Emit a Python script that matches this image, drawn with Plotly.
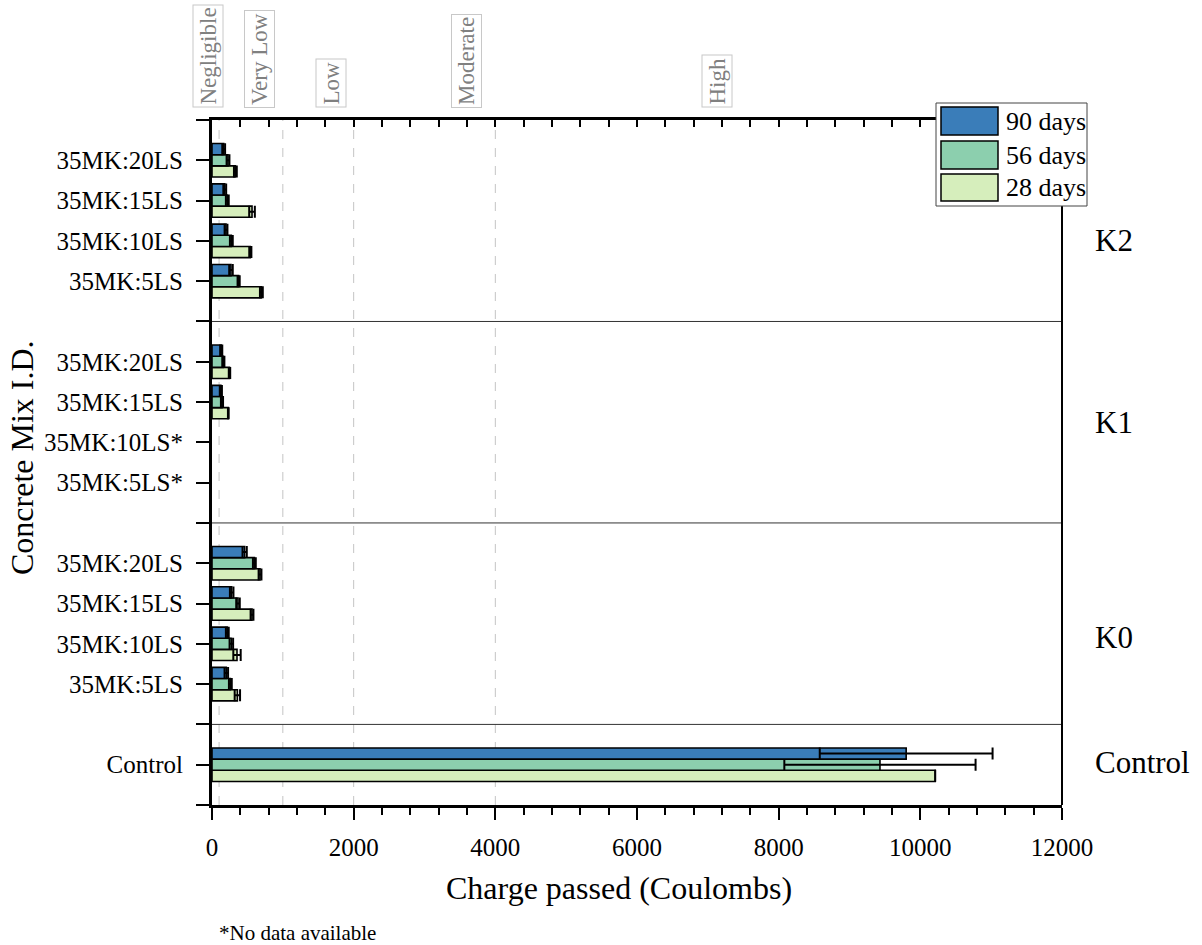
import plotly.graph_objects as go

# ---- data -------------------------------------------------------------
mix_labels = ["Control",
              "35MK:5LS", "35MK:10LS", "35MK:15LS", "35MK:20LS",
              "35MK:5LS*", "35MK:10LS*", "35MK:15LS", "35MK:20LS",
              "35MK:5LS", "35MK:10LS", "35MK:15LS", "35MK:20LS"]
series_names = ["28 days", "56 days", "90 days"]
series_colors = ["#d6eebc", "#8ccfae", "#3a7db9"]

charge_28 = [10210, 358, 353, 565, 678, None, None, 230, 247, 697, 541, 565, 330]
charge_56 = [9430, 259, 273, 367, 598, None, None, 141, 160, 376, 273, 216, 226]
charge_90 = [9800, 202, 216, 278, 461, None, None, 125, 130, 268, 198, 180, 165]

err_28 = [0, 38, 52, 20, 20, None, None, 5, 10, 20, 15, 40, 20]
err_56 = [1350, 20, 25, 25, 20, None, None, 15, 15, 15, 20, 20, 20]
err_90 = [1220, 25, 20, 25, 30, None, None, 15, 15, 25, 20, 20, 20]

group_names = ["Control", "K0", "K1", "K2"]
risk_names = ["Negligible", "Very Low", "Low", "Moderate", "High"]
risk_bounds = [100, 1000, 2000, 4000]
x_ticks = [0, 2000, 4000, 6000, 8000, 10000, 12000]

# ---- layout helpers ---------------------------------------------------
# y slots: categories sit on whole numbers, group separators between them
y_slots = [1, 3, 4, 5, 6, 8, 9, 10, 11, 13, 14, 15, 16]
separators = [2, 7, 12]
y_max = 17
FONT = "Liberation Serif, Times New Roman, serif"

L, R, T, B = 212, 140, 120, 140
W, H = 1202, 945
pw, ph = W - L - R, H - T - B


def px_x(px):
    return (px - L) / pw


def px_y(py):
    return (H - B - py) / ph


fig = go.Figure()

for name, color, vals, errs in zip(series_names, series_colors,
                                   [charge_28, charge_56, charge_90],
                                   [err_28, err_56, err_90]):
    fig.add_trace(go.Bar(
        x=vals, y=y_slots, orientation="h", name=name,
        marker=dict(color=color, line=dict(color="black", width=1.6)),
        error_x=dict(type="data", array=errs, color="black",
                     thickness=2, width=6),
        showlegend=False,
    ))

# invisible trace that anchors the top (mirrored) x axis
fig.add_trace(go.Scatter(x=[None], y=[None], xaxis="x2", yaxis="y",
                         showlegend=False, hoverinfo="skip"))

shapes = []
# dashed risk-class boundaries
for b in risk_bounds:
    shapes.append(dict(type="line", xref="x", yref="y", x0=b, x1=b,
                       y0=0, y1=y_max, layer="below",
                       line=dict(color="#c4c4c4", width=1, dash="dash")))
# group separators
for s in separators:
    shapes.append(dict(type="line", xref="x", yref="y", x0=0, x1=12000,
                       y0=s, y1=s, line=dict(color="#333333", width=1)))
# right frame line
shapes.append(dict(type="line", xref="paper", yref="paper", x0=1, x1=1,
                   y0=0, y1=1, line=dict(color="black", width=2)))

annotations = []
# risk class labels above the plot
risk_px = [208, 260, 331, 467, 717]
for name, xp in zip(risk_names, risk_px):
    annotations.append(dict(
        text=name, x=px_x(xp), xref="paper", y=px_y(108), yref="paper",
        textangle=-90, xanchor="center", yanchor="bottom", showarrow=False,
        font=dict(family=FONT, size=23, color="#808080"),
        bordercolor="#c8c8c8", borderwidth=1, borderpad=2,
        bgcolor="rgba(255,255,255,0)"))

# group labels on the right
group_y = [1.05, 4.15, 9.5, 14.0]
for name, gy in zip(group_names, group_y):
    annotations.append(dict(
        text=name, x=px_x(1093), xref="paper", y=gy, yref="y",
        xanchor="left", yanchor="middle", showarrow=False,
        font=dict(family=FONT, size=31, color="black")))

# axis titles
annotations.append(dict(
    text="Charge passed (Coulombs)", x=px_x(619), xref="paper",
    y=px_y(888), yref="paper", xanchor="center", yanchor="middle",
    showarrow=False, font=dict(family=FONT, size=32, color="black")))
annotations.append(dict(
    text="Concrete Mix I.D.", x=px_x(22), xref="paper",
    y=px_y(458), yref="paper", xanchor="center", yanchor="middle",
    textangle=-90, showarrow=False,
    font=dict(family=FONT, size=32, color="black")))
annotations.append(dict(
    text="*No data available", x=px_x(217), xref="paper",
    y=px_y(933), yref="paper", xanchor="left", yanchor="middle",
    showarrow=False, font=dict(family=FONT, size=21, color="black")))

# legend box (top item = 90 days)
box_l, box_r, box_t, box_b = 936, 1087, 103, 206
shapes.append(dict(type="rect", xref="paper", yref="paper",
                   x0=px_x(box_l), x1=px_x(box_r), y0=px_y(box_b), y1=px_y(box_t),
                   fillcolor="white", line=dict(color="#444444", width=1)))
rows = [(107, 135), (141, 169), (174, 201)]
for (t, b), name, color in zip(rows, series_names[::-1], series_colors[::-1]):
    shapes.append(dict(type="rect", xref="paper", yref="paper",
                       x0=px_x(941), x1=px_x(998), y0=px_y(b), y1=px_y(t),
                       fillcolor=color, line=dict(color="black", width=1.5)))
    annotations.append(dict(
        text=name, x=px_x(1004), xref="paper", y=px_y((t + b) / 2),
        yref="paper", xanchor="left", yanchor="middle", showarrow=False,
        font=dict(family=FONT, size=26, color="black")))

tick_vals_y = list(range(0, y_max + 1))
tick_text_y = [""] * len(tick_vals_y)
for lab, s in zip(mix_labels, y_slots):
    tick_text_y[s] = lab

fig.update_layout(
    width=W, height=H,
    margin=dict(l=L, r=R, t=T, b=B, autoexpand=False),
    plot_bgcolor="white", paper_bgcolor="white",
    barmode="group", bargap=0.17, bargroupgap=0,
    font=dict(family=FONT, size=25, color="black"),
    shapes=shapes, annotations=annotations,
    showlegend=False,
    xaxis=dict(
        range=[0, 12000], tickvals=x_ticks,
        ticktext=[str(v) for v in x_ticks],
        ticks="outside", ticklen=12,
        tickwidth=2, tickcolor="black", showline=True, linewidth=3,
        linecolor="black", showgrid=False, zeroline=False,
        ticklabelstandoff=6,
        tickfont=dict(family=FONT, size=25, color="black"),
        minor=dict(dtick=400, ticks="outside", ticklen=7, tickwidth=1.5,
                   tickcolor="black", showgrid=False),
    ),
    xaxis2=dict(
        range=[0, 12000], overlaying="x", side="top", anchor="y",
        tickvals=x_ticks, ticks="inside", ticklen=7, tickwidth=1.5,
        tickcolor="black", showticklabels=False, showline=True,
        linewidth=3, linecolor="black", showgrid=False, zeroline=False,
        minor=dict(dtick=400, ticks="inside", ticklen=7, tickwidth=1.5,
                   tickcolor="black", showgrid=False),
    ),
    yaxis=dict(
        range=[0, y_max], tickvals=tick_vals_y, ticktext=tick_text_y,
        ticks="outside", ticklen=13, tickwidth=2, tickcolor="black",
        showline=True, linewidth=3, linecolor="black", showgrid=False,
        zeroline=False, ticklabelstandoff=8,
        tickfont=dict(family=FONT, size=25, color="black"),
    ),
)

fig.write_html("out.html")
